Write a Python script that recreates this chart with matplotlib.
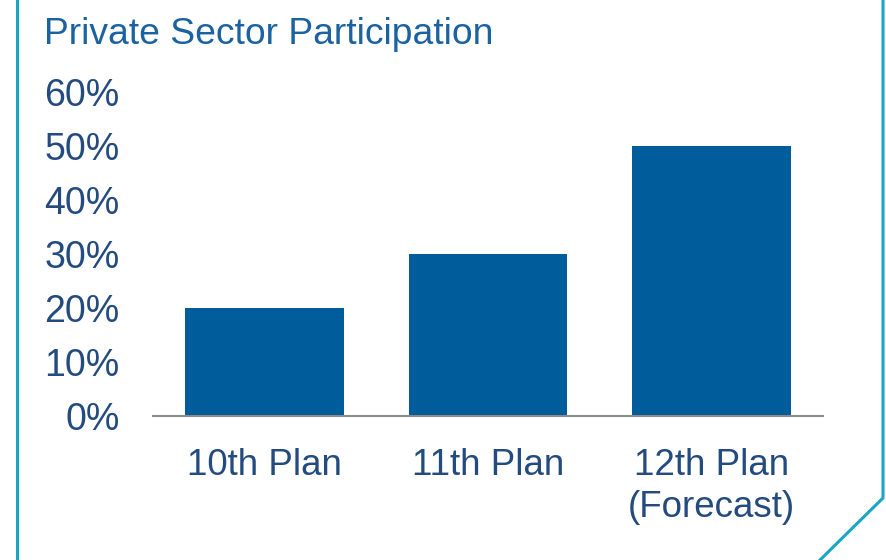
import matplotlib.pyplot as plt
from matplotlib.lines import Line2D

plt.rcParams['font.family'] = ['Liberation Sans', 'DejaVu Sans']

plans = ['10th Plan', '11th Plan', '12th Plan\n(Forecast)']
share = [20, 30, 50]  # private sector share, percent
y_ticks = [0, 10, 20, 30, 40, 50, 60]
y_labels = ['%d%%' % t for t in y_ticks]

bar_col = '#005C9A'
text_col = '#234B7F'
title_col = '#1B62A0'
frame_col = '#19A6C6'

W, H = 886, 560
fig = plt.figure(figsize=(W / 100, H / 100), dpi=100)
fig.patch.set_facecolor('white')

ax = fig.add_axes([153 / W, (H - 416) / H, (823 - 153) / W, (416 - 92) / H])
ax.bar(range(len(plans)), share, width=0.71, color=bar_col)
ax.set_xlim(-0.5, 2.5)
ax.set_ylim(0, 60)
ax.set_yticks(y_ticks)
ax.set_yticklabels(y_labels)
ax.set_xticks(range(len(plans)))
ax.set_xticklabels(plans, linespacing=1.27)
ax.tick_params(axis='y', length=0, pad=24, labelsize=27, labelcolor=text_col)
ax.tick_params(axis='x', length=0, pad=23, labelsize=26.5, labelcolor=text_col)
for side in ['top', 'right', 'left']:
    ax.spines[side].set_visible(False)
ax.spines['bottom'].set_color('#8C8C8C')
ax.spines['bottom'].set_linewidth(1.5)

fig.text(44 / W, 1 - 44 / H, 'Private Sector Participation', fontsize=26.8,
         color=title_col, ha='left', va='baseline')

# slide frame: left edge, right edge with cut corner
fig.add_artist(Line2D([17 / W, 17 / W], [0, 1], color=frame_col, lw=2.2,
                      transform=fig.transFigure))
fig.add_artist(Line2D([883 / W, 883 / W, 820 / W], [1, 1 - 498 / H, 0],
                      color=frame_col, lw=2.2, transform=fig.transFigure))

fig.savefig('out.png', dpi=100, facecolor='white')
